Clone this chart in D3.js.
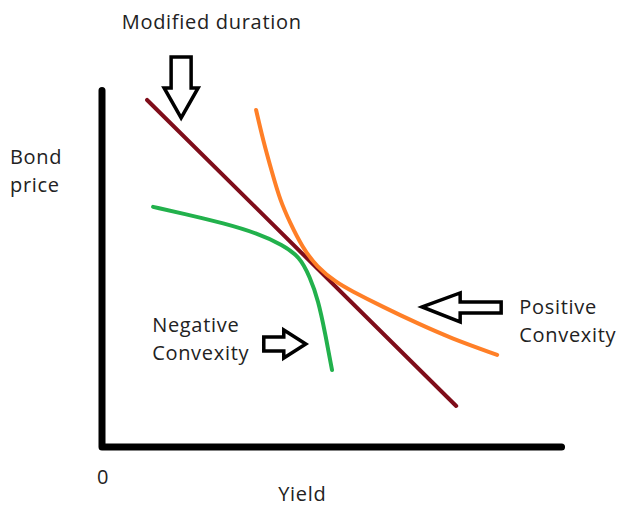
<!DOCTYPE html>
<html><head><meta charset="utf-8">
<script src="https://cdn.jsdelivr.net/npm/d3@7"></script>
<style>body{margin:0;background:#fff}svg{display:block}</style>
</head><body>
<svg id="c" width="619" height="506"></svg>
<script>
// Data (abstract units: yield 0-10, price 0-10)
const durationLine = [[0.98, 9.64], [7.70, 1.14]];
const positiveConvexity = [[3.35,9.36],[3.50,8.53],[3.70,7.61],[3.87,6.86],[4.09,6.22],[4.35,5.56],[4.67,5.00],[5.11,4.56],[5.39,4.36],[6.11,3.89],[6.85,3.44],[7.57,3.03],[8.59,2.56]];
const negativeConvexity = [[1.11,6.67],[1.91,6.44],[2.63,6.22],[3.37,5.94],[3.93,5.61],[4.30,5.28],[4.52,4.72],[4.70,4.08],[4.85,3.17],[5.00,2.14]];
const xAxisTicks = ["0"];
const labels = [
  {text:["Modified duration"], x:0.43, y:11.62},
  {text:["Bond","price"], x:-2.0, y:7.85},
  {text:["Negative","Convexity"], x:1.09, y:3.19},
  {text:["Positive","Convexity"], x:9.07, y:3.69},
  {text:["Yield"], x:3.83, y:-1.5}
];
// block arrows: tip position, direction
const arrows = [
  {tip:[1.72, 9.14], dir:"down"},
  {tip:[4.43, 2.86], dir:"right"},
  {tip:[6.96, 3.89], dir:"left"}
];

const svg = d3.select("#c");
const x = d3.scaleLinear().domain([0,10]).range([102,562]);
const y = d3.scaleLinear().domain([0,10]).range([447,87]);

// axes
svg.append("path")
  .attr("d", d3.line()([[x(0), y(9.9)],[x(0), y(0)],[x(9.99), y(0)]]))
  .attr("fill","none").attr("stroke","#000").attr("stroke-width",7)
  .attr("stroke-linecap","round").attr("stroke-linejoin","round");

const font = "'Open Sans', sans-serif";
const fs = 20, ls = 0.7;
svg.selectAll(".tick0").data(xAxisTicks).enter().append("text")
  .attr("x", x(0)-5).attr("y", y(0)+37)
  .attr("font-family", font).attr("font-size",fs).attr("fill","#222").text(d=>d);

const line = d3.line().x(d=>x(d[0])).y(d=>y(d[1]));
const curve = d3.line().x(d=>x(d[0])).y(d=>y(d[1])).curve(d3.curveBasis);

svg.append("path").attr("d", curve(negativeConvexity)).attr("fill","none")
  .attr("stroke","#22b14c").attr("stroke-width",4).attr("stroke-linecap","round");
svg.append("path").attr("d", line(durationLine)).attr("fill","none")
  .attr("stroke","#7f0d1a").attr("stroke-width",4).attr("stroke-linecap","round");
svg.append("path").attr("d", curve(positiveConvexity)).attr("fill","none")
  .attr("stroke","#ff7f27").attr("stroke-width",4).attr("stroke-linecap","round");

// arrows
function arrowPath(a){
  const tx = x(a.tip[0]), ty = y(a.tip[1]);
  let pts;
  if (a.dir==="down"){
    pts=[[tx,ty],[tx-17,ty-30],[tx-10,ty-30],[tx-10,ty-61],[tx+10,ty-61],[tx+10,ty-30],[tx+17,ty-30]];
  } else if (a.dir==="right"){
    pts=[[tx,ty],[tx-22,ty-14],[tx-22,ty-7],[tx-42,ty-7],[tx-42,ty+7],[tx-22,ty+7],[tx-22,ty+14]];
  } else {
    pts=[[tx,ty],[tx+38,ty-14],[tx+38,ty-5],[tx+79,ty-5],[tx+79,ty+6],[tx+38,ty+6],[tx+38,ty+15]];
  }
  return d3.line()(pts)+"Z";
}
svg.selectAll(".arrow").data(arrows).enter().append("path")
  .attr("d", arrowPath).attr("fill","#fff").attr("stroke","#000")
  .attr("stroke-width",3.5).attr("stroke-linejoin","miter");

// labels
labels.forEach(l=>{
  const t = svg.append("text").attr("x", x(l.x)).attr("y", y(l.y))
    .attr("font-family", font).attr("font-size",fs).attr("letter-spacing",ls).attr("fill","#222");
  l.text.forEach((s,i)=>t.append("tspan").attr("x", x(l.x)).attr("dy", i===0?0:28).text(s));
});
</script>
</body></html>
